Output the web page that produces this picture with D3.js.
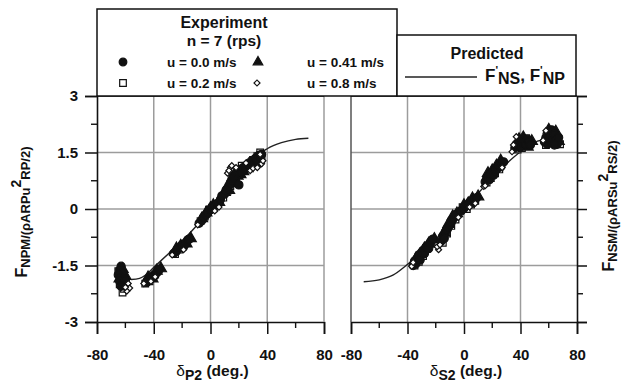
<!DOCTYPE html>
<html><head><meta charset="utf-8">
<script src="https://cdn.jsdelivr.net/npm/d3@7"></script>
<style>
body{margin:0;background:#fff}
svg{display:block}
text{font-family:"Liberation Sans",Arial,Helvetica,sans-serif;fill:#111}
</style>
</head><body>
<svg id="c" width="623" height="387"></svg>
<script>
// ---------- data ----------
const xTicks = [-80, -40, 0, 40, 80];
const xMinor = [-60, -20, 20, 60];
const yTicks = [3, 1.5, 0, -1.5, -3];
const yMinor = [2.25, 0.75, -0.75, -2.25];
const yTickLabels = ["3", "1.5", "0", "-1.5", "-3"];
const gridX = [-40, 0, 40];
const gridY = [1.5, 0, -1.5];
const seriesNames = ["u = 0.0 m/s", "u = 0.2 m/s", "u = 0.41 m/s", "u = 0.8 m/s"];

// Port rudder (delta P2) - experiment
const port_u00 = [[-63,-1.52],[-64,-1.62],[-62,-1.7],[-65,-1.75],[-63,-1.82],[-61,-1.85],[-64,-1.92],[-62,-1.98],[-60,-1.9],[-63,-2.05],
  [-45,-1.95],[-44,-1.88],[-42,-1.85],[-41,-1.78],[-40,-1.8],[-38,-1.7],[-37,-1.66],[-36,-1.6],
  [-26,-1.18],[-24,-1.12],[-23,-1.05],[-21,-1.02],[-20,-0.95],[-19,-1.0],[-17,-0.88],[-16,-0.82],[-15,-0.8],
  [-8,-0.38],[-6,-0.3],[-5,-0.22],[-3,-0.15],[-2,-0.1],[0,-0.02],[1,0.05],[3,0.08],[5,0.15],
  [7,0.25],[8,0.35],[10,0.4],[11,0.5],[12,0.55],[13,0.62],[14,0.7],[15,0.78],[16,0.85],[17,0.9],[18,0.95],[19,1.0],[20,0.64],[21,1.05],[22,0.98],[23,1.1],[24,1.05],
  [25,1.1],[26,1.18],[27,1.22],[28,1.15],[29,1.28],[30,1.25],[31,1.32],[32,1.35],[33,1.3],[34,1.42],[35,1.38],[36,1.45]];
const port_u02 = [[-62,-2.22],[-61,-2.12],[-64,-2.0],[-65,-1.65],
  [-46,-1.98],[-43,-1.92],[-39,-1.74],
  [-25,-1.2],[-22,-1.08],[-18,-0.92],
  [-7,-0.32],[-4,-0.2],[-1,-0.02],[2,0.02],[4,0.12],
  [9,0.3],[12,0.48],[14,0.6],[16,0.72],[18,0.82],[20,0.9],[22,1.15],[25,1.12],
  [27,1.12],[30,1.3],[33,1.4],[35,1.5],[36,1.38]];
const port_u041 = [[-62,-1.6],[-60,-1.78],[-64,-1.85],[-61,-2.02],
  [-44,-1.82],[-41,-1.85],[-38,-1.64],[-35,-1.58],
  [-24,-1.05],[-21,-0.98],[-17,-0.92],[-14,-0.78],
  [-6,-0.25],[-3,-0.1],[0,0.02],[2,0.1],[6,0.18],
  [10,0.45],[13,0.5],[15,0.68],[17,0.8],[19,0.88],[21,0.92],[23,1.0],
  [26,1.08],[29,1.2],[31,1.28],[34,1.35],[32,1.22]];
const port_u08 = [[-58,-1.98],[-57,-2.1],[-59,-2.18],[-60,-2.08],
  [-47,-1.98],[-42,-1.92],[-39,-1.8],
  [-27,-1.22],[-19,-1.08],
  [-9,-0.42],[3,-0.05],[6,0.05],
  [12,0.95],[14,1.1],[15,1.15],[18,1.1],[13,1.02],
  [25,1.22],[28,1.02],[30,1.08],[33,1.1],[36,1.2],[37,1.28],[35,1.45]];
// Starboard rudder (delta S2) - experiment
const stbd_u00 = [[-36,-1.5],[-35,-1.38],[-34,-1.45],[-33,-1.3],[-32,-1.22],[-31,-1.35],[-30,-1.15],[-29,-1.1],[-28,-1.18],[-27,-1.02],[-26,-0.98],[-25,-1.05],[-24,-0.9],[-23,-0.85],[-22,-0.8],
  [-16,-0.85],[-15,-0.72],[-14,-0.78],[-13,-0.6],[-12,-0.55],[-11,-0.48],[-10,-0.42],[-9,-0.35],[-8,-0.28],[-7,-0.22],[-6,-0.15],
  [-2,-0.05],[0,0.02],[1,0.08],[3,0.1],[4,0.18],[6,0.2],[7,0.26],[9,0.3],
  [15,0.72],[16,0.8],[17,0.85],[18,0.78],[19,0.92],[20,0.95],[21,0.9],[22,1.02],[23,1.05],[24,1.1],[25,1.15],[26,1.12],[27,1.22],[28,1.25],
  [36,1.62],[37,1.72],[38,1.68],[39,1.78],[40,1.65],[41,1.82],[42,1.75],[43,1.8],[44,1.72],[45,1.85],[46,1.78],[47,1.7],
  [57,1.78],[58,1.9],[59,1.72],[60,1.85],[61,1.95],[62,2.1],[62,1.78],[63,1.88],[64,1.98],[65,1.82],[66,1.72],[67,1.9],[64,1.7]];
const stbd_u02 = [[-35,-1.5],[-32,-1.4],[-29,-1.25],[-26,-1.05],[-23,-0.92],
  [-15,-0.9],[-12,-0.65],[-9,-0.45],[-6,-0.28],
  [-1,0.05],[2,0.0],[5,0.12],[8,0.22],
  [16,0.7],[19,0.82],[22,0.95],[25,1.05],
  [38,1.58],[41,1.62],[44,1.88],[46,1.68],
  [58,1.7],[61,1.75],[63,2.0],[66,1.8],[68,1.72]];
const stbd_u041 = [[-34,-1.32],[-31,-1.2],[-28,-1.05],[-25,-0.92],[-21,-0.8],
  [-14,-0.62],[-11,-0.4],[-8,-0.2],[-5,-0.12],
  [0,0.1],[3,0.15],[6,0.28],[10,0.33],
  [17,0.95],[20,1.02],[23,1.15],[26,1.28],
  [39,1.85],[42,1.9],[45,1.65],[48,1.8],
  [59,1.95],[62,1.95],[65,2.05],[67,1.8],[60,2.1]];
const stbd_u08 = [[-37,-1.52],[-36,-1.42],[-18,-1.08],[-19,-1.0],
  [-17,-0.95],[-4,-0.22],
  [4,0.05],[8,0.15],
  [14,0.6],[15,0.62],[27,1.1],
  [37,1.92],[35,1.7],[34,1.52],
  [58,2.08],[56,1.82]];
// Predicted curves
const port_pred = [[-56,-1.87],[-50,-1.84],[-46,-1.76],[-40,-1.55],[-30,-1.2],[-20,-0.85],[-10,-0.45],[0,0],[10,0.45],[20,0.85],[30,1.25],[36,1.5],[40,1.6],[50,1.76],[60,1.85],[69,1.88]];
const stbd_pred = [[-71,-1.93],[-60,-1.88],[-50,-1.75],[-41,-1.5],[-30,-1.15],[-20,-0.8],[-10,-0.42],[0,0],[10,0.42],[20,0.82],[30,1.2],[40,1.52],[46,1.67],[52,1.8],[60,1.85],[68,1.86]];

// ---------- drawing ----------
const svg = d3.select("#c");
const y = d3.scaleLinear().domain([-3, 3]).range([322, 96]);
const xL = d3.scaleLinear().domain([-80, 80]).range([97, 324]);
const xR = d3.scaleLinear().domain([-80, 80]).range([351, 577]);
const gridCol = "#9c9c9c";
const FW = "bold";

const SYM = [d3.symbolCircle, d3.symbolSquare, d3.symbolTriangle, d3.symbolSquare];
const ROT = [0, 0, 0, 45];
const FILL = ["#111", "#fff", "#111", "#fff"];

function panel(x, sets, pred) {
  const g = svg.append("g");
  g.selectAll(".gy").data(gridY).join("line")
    .attr("x1", x(-80)).attr("x2", x(80)).attr("y1", d => y(d)).attr("y2", d => y(d))
    .attr("stroke", gridCol).attr("stroke-width", 1.5);
  g.selectAll(".gx").data(gridX).join("line")
    .attr("y1", y(-3)).attr("y2", y(3)).attr("x1", d => x(d)).attr("x2", d => x(d))
    .attr("stroke", gridCol).attr("stroke-width", 1.5);
  const ax = g.append("g").attr("transform", `translate(0,${y(-3)})`)
    .call(d3.axisBottom(x).tickValues(xTicks).tickSize(12).tickPadding(15).tickFormat(d3.format("d")));
  ax.select(".domain").attr("stroke", "#111").attr("stroke-width", 1.6);
  ax.selectAll(".tick line").attr("stroke", "#111").attr("stroke-width", 1.5);
  ax.selectAll("text").attr("font-size", 15).attr("font-weight", FW).attr("fill", "#111")
    .attr("font-family", "'Liberation Sans',Arial,sans-serif")
    .text(d => d < 0 ? "-" + Math.abs(d) : d);
  g.selectAll(".xm").data(xMinor).join("line")
    .attr("x1", d => x(d)).attr("x2", d => x(d)).attr("y1", y(-3)).attr("y2", y(-3) + 6)
    .attr("stroke", "#111").attr("stroke-width", 1.4);
  const line = d3.line().x(d => x(d[0])).y(d => y(d[1])).curve(d3.curveMonotoneX);
  g.append("path").attr("d", line(pred)).attr("fill", "none").attr("stroke", "#222").attr("stroke-width", 1.4);
  const sizes = [52, 44, 55, 18];
  const order = [1, 2, 0, 3];
  order.forEach(i => {
    g.append("g").selectAll("path").data(sets[i]).join("path")
      .attr("d", d3.symbol(SYM[i], sizes[i]))
      .attr("transform", d => `translate(${x(d[0])},${y(d[1])}) rotate(${ROT[i]})`)
      .attr("fill", FILL[i]).attr("stroke", "#111").attr("stroke-width", 1.2);
  });
  return g;
}

panel(xL, [port_u00, port_u02, port_u041, port_u08], port_pred);
panel(xR, [stbd_u00, stbd_u02, stbd_u041, stbd_u08], stbd_pred);

svg.append("line").attr("x1", xL(80)).attr("x2", xL(80)).attr("y1", y(3)).attr("y2", y(-3)).attr("stroke", gridCol).attr("stroke-width", 1.5);
svg.append("line").attr("x1", xR(-80)).attr("x2", xR(-80)).attr("y1", y(3)).attr("y2", y(-3)).attr("stroke", "#555").attr("stroke-width", 1.5);
svg.append("line").attr("x1", xR(-80)).attr("x2", xR(80)).attr("y1", y(3)).attr("y2", y(3)).attr("stroke", "#111").attr("stroke-width", 1.5);
svg.append("line").attr("x1", xL(-80)).attr("x2", xL(80)).attr("y1", y(3)).attr("y2", y(3)).attr("stroke", "#111").attr("stroke-width", 1.5);

// left y axis
const ayl = svg.append("g").attr("transform", `translate(${xL(-80)},0)`)
  .call(d3.axisLeft(y).tickValues(yTicks).tickSize(12).tickPadding(7).tickFormat((d, i) => yTickLabels[i]));
ayl.select(".domain").attr("stroke", "#111").attr("stroke-width", 1.6);
ayl.selectAll(".tick line").attr("stroke", "#111").attr("stroke-width", 1.5);
ayl.selectAll("text").attr("font-size", 15).attr("font-weight", FW).attr("fill", "#111")
  .attr("font-family", "'Liberation Sans',Arial,sans-serif");
svg.append("g").selectAll("line").data(yMinor).join("line")
  .attr("x1", xL(-80) - 6).attr("x2", xL(-80)).attr("y1", d => y(d)).attr("y2", d => y(d))
  .attr("stroke", "#111").attr("stroke-width", 1.4);

// right y axis (ticks only)
const ayr = svg.append("g").attr("transform", `translate(${xR(80)},0)`)
  .call(d3.axisRight(y).tickValues(yTicks).tickSize(10).tickFormat(""));
ayr.select(".domain").attr("stroke", "#111").attr("stroke-width", 1.6);
ayr.selectAll(".tick line").attr("stroke", "#111").attr("stroke-width", 1.5);
svg.append("g").selectAll("line").data(yMinor).join("line")
  .attr("x1", xR(80)).attr("x2", xR(80) + 6).attr("y1", d => y(d)).attr("y2", d => y(d))
  .attr("stroke", "#111").attr("stroke-width", 1.4);

// axis titles
function subTitle(xc, yc, sym, sub, rest) {
  const t = svg.append("text").attr("x", xc).attr("y", yc).attr("text-anchor", "middle").attr("font-size", 15.5).attr("font-weight", FW);
  t.append("tspan").attr("font-weight", "normal").text(sym);
  t.append("tspan").attr("font-size", 14).attr("dy", 4).text(sub);
  t.append("tspan").attr("dy", -4).text(" " + rest);
}
subTitle(xL(0) + 2, 376, "δ", "P2", "(deg.)");
subTitle(xR(0) + 2, 376, "δ", "S2", "(deg.)");

function yTitle(xc, yc, sub1, sub2, sub3) {
  const t = svg.append("text").attr("transform", `translate(${xc},${yc}) rotate(-90)`)
    .attr("text-anchor", "middle").attr("font-size", 16).attr("font-weight", FW);
  t.append("tspan").text("F");
  t.append("tspan").attr("font-size", 13).attr("dy", 3).text(sub1 + "/(ρA" + sub2 + "u");
  t.append("tspan").attr("font-size", 14).attr("dy", -9).text("2");
  t.append("tspan").attr("font-size", 13).attr("dy", 9).text("R" + sub3 + "/2)");
}
yTitle(27, 212, "NPM", "RP", "P");
yTitle(614, 206, "NSM", "RS", "S");

// legend: Experiment
svg.append("rect").attr("x", 97).attr("y", 9).attr("width", 300).attr("height", 87)
  .attr("fill", "#fff").attr("stroke", "#111").attr("stroke-width", 1.5);
svg.append("text").attr("x", 224).attr("y", 28).attr("text-anchor", "middle").attr("font-size", 16).attr("font-weight", "bold").text("Experiment");
svg.append("text").attr("x", 224).attr("y", 46).attr("text-anchor", "middle").attr("font-size", 15.5).attr("font-weight", "bold").text("n = 7 (rps)");
const legSize = [46, 44, 40, 18];
const legPos = [[123, 62, 167], [123, 83, 167], [258, 62, 307], [257, 83, 307]];
seriesNames.forEach((n, i) => {
  const [sx, sy, tx] = legPos[i];
  svg.append("path").attr("d", d3.symbol(SYM[i], legSize[i])).attr("transform", `translate(${sx},${sy}) rotate(${ROT[i]})`)
    .attr("fill", FILL[i]).attr("stroke", "#111").attr("stroke-width", 1.2);
  svg.append("text").attr("x", tx).attr("y", sy + 5).attr("font-size", 13.5).attr("font-weight", "bold").text(n);
});

// legend: Predicted
svg.append("rect").attr("x", 397).attr("y", 35).attr("width", 179).attr("height", 61)
  .attr("fill", "#fff").attr("stroke", "#111").attr("stroke-width", 1.5);
svg.append("text").attr("x", 487).attr("y", 59).attr("text-anchor", "middle").attr("font-size", 16).attr("font-weight", "bold").text("Predicted");
svg.append("line").attr("x1", 405).attr("x2", 477).attr("y1", 77).attr("y2", 77).attr("stroke", "#222").attr("stroke-width", 1.4);
const pt = svg.append("text").attr("x", 485).attr("y", 81).attr("font-size", 17).attr("font-weight", "bold");
pt.append("tspan").text("F");
pt.append("tspan").attr("font-size", 11).attr("dy", -7).text("'");
pt.append("tspan").attr("font-size", 16).attr("dy", 10).text("NS");
pt.append("tspan").attr("dy", -3).text(", F");
pt.append("tspan").attr("font-size", 11).attr("dy", -7).text("'");
pt.append("tspan").attr("font-size", 16).attr("dy", 10).text("NP");
</script>
</body></html>
